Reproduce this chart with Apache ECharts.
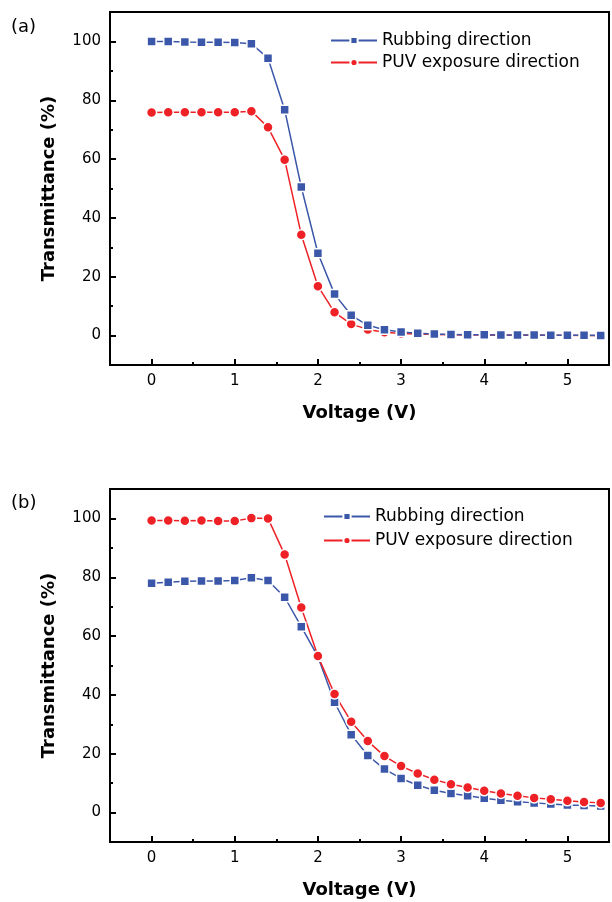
<html>
<head>
<meta charset="utf-8">
<script src="https://cdn.jsdelivr.net/npm/echarts@6/dist/echarts.min.js"></script>
<style>
    body{margin:0;background:#fff;}
    #chart{width:612px;height:902px;}
</style>
</head>
<body>
<div id="chart"></div>
<script>
    // voltage steps (V)
    var voltage = [0,0.2,0.4,0.6,0.8,1.0,1.2,1.4,1.6,1.8,2.0,2.2,2.4,2.6,2.8,3.0,3.2,3.4,3.6,3.8,4.0,4.2,4.4,4.6,4.8,5.0,5.2,5.4];

    // panel (a)
    var rubbingA = [100,100,99.8,99.7,99.7,99.6,99.2,94.3,76.8,50.5,28,14.1,6.9,3.5,2,1.2,0.8,0.5,0.4,0.3,0.3,0.2,0.2,0.2,0.1,0.1,0.1,0];
    var puvA = [75.8,75.9,75.9,75.9,75.9,75.9,76.3,70.8,59.8,34.3,16.8,7.9,3.9,2.1,1.1,0.7,0.5,0.4,0.3,0.2,0.2,0.1,0.1,0.1,0.1,0.1,0,0];

    // panel (b)
    var rubbingB = [78,78.3,78.6,78.7,78.7,78.9,79.8,78.9,73.2,63.2,53,37.5,26.5,19.4,14.8,11.6,9.3,7.6,6.5,5.7,4.9,4.2,3.7,3.3,2.9,2.6,2.4,2.2];
    var puvB = [99.3,99.3,99.2,99.3,99.1,99.1,100.1,100,87.7,69.7,53.2,40.3,30.9,24.3,19.2,15.8,13.3,11.2,9.6,8.5,7.4,6.5,5.7,5,4.5,4,3.6,3.3];

    var seriesNames = ['Rubbing direction','PUV exposure direction'];
    var panelLabels = ['(a)','(b)'];
    var xLabel = 'Voltage (V)';
    var yLabel = 'Transmittance (%)';

    var BLUE = '#3b57a9';
    var RED = '#ee2226';
    var FONT = 'DejaVu Sans';

    function pairs(ys){
        var out = [];
        for(var i=0;i<voltage.length;i++){
            out.push([voltage[i], ys[i]]);
        }
        return out;
    }

    function mkSeries(name, ys, idx, isRub){
        return {
            name: name,
            type: 'line',
            xAxisIndex: idx*2,
            yAxisIndex: idx*2,
            data: pairs(ys),
            symbol: isRub ? 'rect' : 'circle',
            symbolSize: isRub ? 9 : 10,
            lineStyle: {color: isRub ? BLUE : RED, width: 1.5},
            itemStyle: {color: isRub ? BLUE : RED, borderColor: '#fff', borderWidth: 1.5},
            emphasis: {disabled: true},
            animation: false
        };
    }

    var grids = [
        {left: 110, top: 12, right: -2, height: 353},
        {left: 110, top: 489, right: -2, height: 353}
    ];

    var xAxes = [], yAxes = [];
    grids.forEach(function(g, i){
        g.show = true;
        g.borderColor = '#000';
        g.borderWidth = 2;
        g.containLabel = false;
        // major x
        xAxes.push({
            type: 'value', gridIndex: i, position: 'bottom', min: -0.5, max: 5.5,
            name: xLabel, nameLocation: 'middle', nameGap: 39,
            nameTextStyle: {fontFamily: FONT, fontWeight: 'bold', fontSize: 18, color: '#000'},
            axisLine: {show: true, onZero: false, lineStyle: {color: '#000', width: 2}},
            axisTick: {show: true, inside: true, length: 6, lineStyle: {color: '#000', width: 2}},
            axisLabel: {margin: 9, fontFamily: FONT, fontSize: 15, color: '#000',
                formatter: function(v){ return Number.isInteger(v) ? String(v) : ''; }},
            splitLine: {show: false}
        });
        // minor x ticks (0.5, 1.5 ...)
        xAxes.push({
            type: 'value', gridIndex: i, position: 'bottom', min: -0.5, max: 5.5, interval: 1,
            axisLine: {show: false, onZero: false},
            axisTick: {show: true, inside: true, length: 3, lineStyle: {color: '#000', width: 2}},
            axisLabel: {show: false},
            splitLine: {show: false}
        });
        // major y
        yAxes.push({
            type: 'value', gridIndex: i, position: 'left', min: -10, max: 110,
            name: yLabel, nameLocation: 'middle', nameGap: 52,
            nameTextStyle: {fontFamily: FONT, fontWeight: 'bold', fontSize: 18, color: '#000'},
            axisLine: {show: true, onZero: false, lineStyle: {color: '#000', width: 2}},
            axisTick: {show: true, inside: true, length: 6, lineStyle: {color: '#000', width: 2}},
            axisLabel: {margin: 9, fontFamily: FONT, fontSize: 15, color: '#000',
                formatter: function(v){ return v % 20 === 0 ? String(v) : ''; }},
            splitLine: {show: false}
        });
        // minor y ticks (10, 30 ...)
        yAxes.push({
            type: 'value', gridIndex: i, position: 'left', min: -10, max: 110, interval: 20,
            axisLine: {show: false, onZero: false},
            axisTick: {show: true, inside: true, length: 3, lineStyle: {color: '#000', width: 2}},
            axisLabel: {show: false},
            splitLine: {show: false}
        });
    });

    var legendText = {fontFamily: FONT, fontSize: 17, color: '#000'};

    var option = {
        backgroundColor: '#fff',
        animation: false,
        title: [
            {text: panelLabels[0], left: 6, top: 13, textStyle: {fontFamily: FONT, fontWeight: 'normal', fontSize: 18, color: '#000'}},
            {text: panelLabels[1], left: 6, top: 489, textStyle: {fontFamily: FONT, fontWeight: 'normal', fontSize: 18, color: '#000'}}
        ],
        legend: [
            {data: seriesNames, orient: 'vertical', left: 325, top: 27, itemGap: 5,
             itemWidth: 46, itemHeight: 9, textStyle: legendText, selectedMode: false},
            {data: seriesNames, orient: 'vertical', left: 318, top: 503, itemGap: 7,
             itemWidth: 46, itemHeight: 9, textStyle: legendText, selectedMode: false}
        ],
        grid: grids,
        xAxis: xAxes,
        yAxis: yAxes,
        series: [
            // blue drawn over red in (a)
            mkSeries(seriesNames[1], puvA, 0, false),
            mkSeries(seriesNames[0], rubbingA, 0, true),
            mkSeries(seriesNames[0], rubbingB, 1, true),
            mkSeries(seriesNames[1], puvB, 1, false)
        ]
    };

    var myChart = echarts.init(document.getElementById('chart'), null, {renderer: 'canvas'});
    myChart.setOption(option);
</script>
</body>
</html>
